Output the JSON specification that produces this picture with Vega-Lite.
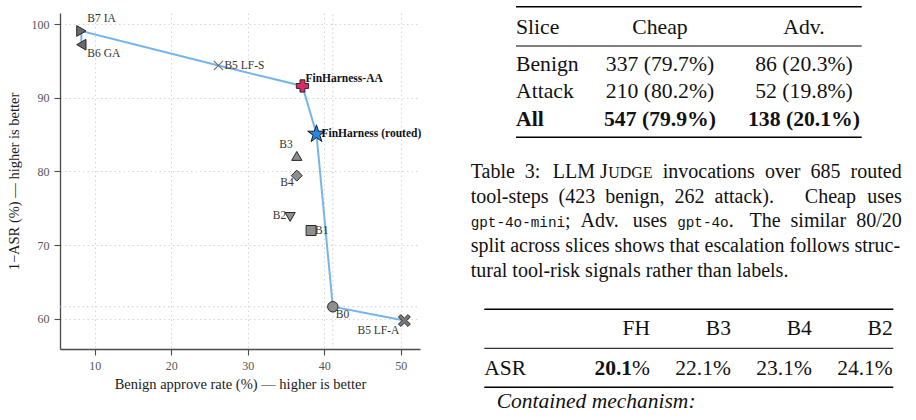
{
  "$schema": "https://vega.github.io/schema/vega-lite/v6.json",
  "width": 360,
  "height": 336,
  "autosize": {"type": "none"},
  "padding": {"left": 60, "top": 13, "right": 496, "bottom": 71},
  "background": "#ffffff",
  "config": {
    "view": {"stroke": null},
    "axis": {
      "domainColor": "#4a4a4a", "domainWidth": 1.3,
      "tickColor": "#4a4a4a", "tickWidth": 1.1, "tickSize": 6,
      "labelFont": "Liberation Serif", "labelFontSize": 12, "labelColor": "#555555", "labelPadding": 5,
      "titleFont": "Liberation Serif", "titleFontSize": 14.5, "titleFontWeight": "normal", "titleColor": "#1a1a1a",
      "grid": true, "gridColor": "#cccccc", "gridDash": [1.5, 3], "gridWidth": 0.8
    },
    "axisX": {"titlePadding": 6},
    "axisY": {"titlePadding": 10}
  },
  "layer": [
    {
      "data": {"values": [
        {"name": "B7 IA", "benign": 8.25, "robust": 99.06, "frontier": 2},
        {"name": "B6 GA", "benign": 8.25, "robust": 97.2, "frontier": 1},
        {"name": "B5 LF-S", "benign": 26.16, "robust": 94.37, "frontier": 3},
        {"name": "FinHarness-AA", "benign": 37.14, "robust": 91.6, "frontier": 4},
        {"name": "FinHarness (routed)", "benign": 38.97, "robust": 85.07, "frontier": 5},
        {"name": "B3", "benign": 36.4, "robust": 82.1, "frontier": null},
        {"name": "B4", "benign": 36.4, "robust": 79.43, "frontier": null},
        {"name": "B2", "benign": 35.53, "robust": 73.82, "frontier": null},
        {"name": "B1", "benign": 38.27, "robust": 71.98, "frontier": null},
        {"name": "B0", "benign": 41.11, "robust": 61.63, "frontier": 6},
        {"name": "B5 LF-A", "benign": 50.46, "robust": 59.76, "frontier": 7}
      ]},
      "encoding": {
        "x": {"field": "benign", "type": "quantitative", "title": "Benign approve rate (%) — higher is better",
              "scale": {"domain": [5.46, 52.5], "nice": false, "zero": false},
              "axis": {"orient": "bottom", "values": [10, 20, 30, 40, 50], "format": "d"}},
        "y": {"field": "robust", "type": "quantitative", "title": "1−ASR (%) — higher is better",
              "scale": {"domain": [55.9, 101.5], "nice": false, "zero": false},
              "axis": {"orient": "left", "values": [60, 70, 80, 90, 100], "format": "d"}}
      },
      "layer": [
        {"transform": [{"filter": "datum.name === 'B0'"}],
         "mark": {"type": "rule", "color": "#c6c6c6", "strokeWidth": 0.9, "strokeDash": [1.5, 3]},
         "encoding": {"x": {"datum": 5.46, "type": "quantitative", "title": "Benign approve rate (%) — higher is better"}, "x2": {"datum": 52.5}}},
        {"transform": [{"filter": "datum.name === 'B0'"}],
         "mark": {"type": "rule", "color": "#c6c6c6", "strokeWidth": 0.9, "strokeDash": [1.5, 3]},
         "encoding": {"y": {"datum": 55.9, "type": "quantitative", "title": "1−ASR (%) — higher is better"}, "y2": {"datum": 101.5}}},
        {"transform": [{"filter": "datum.frontier != null"}],
         "mark": {"type": "line", "color": "#78b4ea", "strokeWidth": 2},
         "encoding": {"order": {"field": "frontier", "type": "quantitative"}}},
        {"transform": [{"filter": "datum.name === 'B7 IA'"}],
         "mark": {"type": "point", "shape": "triangle-right", "size": 115, "filled": true, "fill": "#6b6b6b", "stroke": "#262626", "strokeWidth": 1, "opacity": 1}},
        {"transform": [{"filter": "datum.name === 'B6 GA'"}],
         "mark": {"type": "point", "shape": "triangle-left", "size": 115, "filled": true, "fill": "#6b6b6b", "stroke": "#262626", "strokeWidth": 1, "opacity": 1}},
        {"transform": [{"filter": "datum.name === 'B5 LF-S'"}],
         "mark": {"type": "point", "shape": "M-1,-1L1,1M1,-1L-1,1", "size": 85, "filled": false, "stroke": "#6e6e6e", "strokeWidth": 1.1, "opacity": 1}},
        {"transform": [{"filter": "datum.name === 'FinHarness-AA'"}],
         "mark": {"type": "point", "shape": "cross", "size": 150, "filled": true, "fill": "#d92b67", "stroke": "#262626", "strokeWidth": 1, "opacity": 1}},
        {"transform": [{"filter": "datum.name === 'FinHarness (routed)'"}],
         "mark": {"type": "point", "shape": "M0,-1L0.2245,-0.309L0.9511,-0.309L0.3633,0.118L0.5878,0.809L0,0.382L-0.5878,0.809L-0.3633,0.118L-0.9511,-0.309L-0.2245,-0.309Z", "size": 340, "filled": true, "fill": "#1f88e6", "stroke": "#1a1a1a", "strokeWidth": 1, "opacity": 1}},
        {"transform": [{"filter": "datum.name === 'B3'"}],
         "mark": {"type": "point", "shape": "triangle-up", "size": 105, "filled": true, "fill": "#8e8e8e", "stroke": "#262626", "strokeWidth": 1, "opacity": 1}},
        {"transform": [{"filter": "datum.name === 'B4'"}],
         "mark": {"type": "point", "shape": "diamond", "size": 120, "filled": true, "fill": "#8e8e8e", "stroke": "#262626", "strokeWidth": 1, "opacity": 1}},
        {"transform": [{"filter": "datum.name === 'B2'"}],
         "mark": {"type": "point", "shape": "triangle-down", "size": 105, "filled": true, "fill": "#8e8e8e", "stroke": "#262626", "strokeWidth": 1, "opacity": 1}},
        {"transform": [{"filter": "datum.name === 'B1'"}],
         "mark": {"type": "point", "shape": "square", "size": 100, "filled": true, "fill": "#8e8e8e", "stroke": "#262626", "strokeWidth": 1, "opacity": 1}},
        {"transform": [{"filter": "datum.name === 'B0'"}],
         "mark": {"type": "point", "shape": "circle", "size": 110, "filled": true, "fill": "#8e8e8e", "stroke": "#262626", "strokeWidth": 1, "opacity": 1}},
        {"transform": [{"filter": "datum.name === 'B5 LF-A'"}],
         "mark": {"type": "point", "shape": "M-0.6,-1L0,-0.4L0.6,-1L1,-0.6L0.4,0L1,0.6L0.6,1L0,0.4L-0.6,1L-1,0.6L-0.4,0L-1,-0.6Z", "size": 140, "filled": true, "fill": "#7a7a7a", "stroke": "#262626", "strokeWidth": 1, "opacity": 1}},
        {"transform": [{"filter": "datum.name === 'B7 IA'"}],
         "mark": {"type": "text", "align": "left", "dx": 6, "dy": -12, "font": "Liberation Serif", "fontSize": 11.5, "color": "#333333"},
         "encoding": {"text": {"field": "name"}}},
        {"transform": [{"filter": "datum.name === 'B6 GA'"}],
         "mark": {"type": "text", "align": "left", "dx": 6, "dy": 9, "font": "Liberation Serif", "fontSize": 11.5, "color": "#333333"},
         "encoding": {"text": {"field": "name"}}},
        {"transform": [{"filter": "datum.name === 'B5 LF-S'"}],
         "mark": {"type": "text", "align": "left", "dx": 6, "dy": 0, "font": "Liberation Serif", "fontSize": 11.5, "color": "#333333"},
         "encoding": {"text": {"field": "name"}}},
        {"transform": [{"filter": "datum.name === 'FinHarness-AA'"}],
         "mark": {"type": "text", "align": "left", "dx": 3, "dy": -7, "font": "Liberation Serif", "fontSize": 11.5, "fontWeight": "bold", "color": "#111111"},
         "encoding": {"text": {"field": "name"}}},
        {"transform": [{"filter": "datum.name === 'FinHarness (routed)'"}],
         "mark": {"type": "text", "align": "left", "dx": 5, "dy": 0, "font": "Liberation Serif", "fontSize": 11.5, "fontWeight": "bold", "color": "#111111"},
         "encoding": {"text": {"field": "name"}}},
        {"transform": [{"filter": "datum.name === 'B3'"}],
         "mark": {"type": "text", "align": "right", "dx": -4, "dy": -11, "font": "Liberation Serif", "fontSize": 11.5, "color": "#333333"},
         "encoding": {"text": {"field": "name"}}},
        {"transform": [{"filter": "datum.name === 'B4'"}],
         "mark": {"type": "text", "align": "right", "dx": -3, "dy": 7, "font": "Liberation Serif", "fontSize": 11.5, "color": "#333333"},
         "encoding": {"text": {"field": "name"}}},
        {"transform": [{"filter": "datum.name === 'B2'"}],
         "mark": {"type": "text", "align": "right", "dx": -4, "dy": -1, "font": "Liberation Serif", "fontSize": 11.5, "color": "#333333"},
         "encoding": {"text": {"field": "name"}}},
        {"transform": [{"filter": "datum.name === 'B1'"}],
         "mark": {"type": "text", "align": "left", "dx": 4, "dy": 0, "font": "Liberation Serif", "fontSize": 11.5, "color": "#333333"},
         "encoding": {"text": {"field": "name"}}},
        {"transform": [{"filter": "datum.name === 'B0'"}],
         "mark": {"type": "text", "align": "left", "dx": 3, "dy": 8, "font": "Liberation Serif", "fontSize": 11.5, "color": "#333333"},
         "encoding": {"text": {"field": "name"}}},
        {"transform": [{"filter": "datum.name === 'B5 LF-A'"}],
         "mark": {"type": "text", "align": "right", "dx": -5, "dy": 10.5, "font": "Liberation Serif", "fontSize": 11.5, "color": "#333333"},
         "encoding": {"text": {"field": "name"}}}
      ]
    },
    {
      "layer": [
        {
          "data": {"values": [
            {"row": "header", "col": "Slice", "txt": "Slice"},
            {"row": "header", "col": "Cheap", "txt": "Cheap"},
            {"row": "header", "col": "Adv.", "txt": "Adv."},
            {"row": "Benign", "col": "Slice", "txt": "Benign"},
            {"row": "Benign", "col": "Cheap", "txt": "337 (79.7%)"},
            {"row": "Benign", "col": "Adv.", "txt": "86 (20.3%)"},
            {"row": "Attack", "col": "Slice", "txt": "Attack"},
            {"row": "Attack", "col": "Cheap", "txt": "210 (80.2%)"},
            {"row": "Attack", "col": "Adv.", "txt": "52 (19.8%)"},
            {"row": "All", "col": "Slice", "txt": "All"},
            {"row": "All", "col": "Cheap", "txt": "547 (79.9%)"},
            {"row": "All", "col": "Adv.", "txt": "138 (20.1%)"}
          ]},
          "encoding": {
            "x": {"field": "col", "type": "nominal", "scale": {"type": "point", "domain": ["Slice", "Cheap", "Adv."], "range": [456, 744], "padding": 0}, "axis": null},
            "y": {"field": "row", "type": "nominal", "scale": {"type": "point", "domain": ["header", "Benign", "Attack", "All"], "range": [30.2, 112.7], "padding": 0}, "axis": null},
            "text": {"field": "txt"}
          },
          "layer": [
            {"transform": [{"filter": "datum.row === 'header' && datum.col === 'Slice'"}],
             "mark": {"type": "text", "align": "left", "baseline": "alphabetic", "dy": -9.7, "font": "Liberation Serif", "fontSize": 21.7, "color": "#111111"}},
            {"transform": [{"filter": "datum.row === 'header' && datum.col !== 'Slice'"}],
             "mark": {"type": "text", "align": "center", "baseline": "alphabetic", "dy": -9.7, "font": "Liberation Serif", "fontSize": 21.7, "color": "#111111"}},
            {"transform": [{"filter": "datum.row !== 'header' && datum.row !== 'All' && datum.col === 'Slice'"}],
             "mark": {"type": "text", "align": "left", "baseline": "alphabetic", "font": "Liberation Serif", "fontSize": 21.7, "color": "#111111"}},
            {"transform": [{"filter": "datum.row !== 'header' && datum.row !== 'All' && datum.col !== 'Slice'"}],
             "mark": {"type": "text", "align": "center", "baseline": "alphabetic", "font": "Liberation Serif", "fontSize": 21.7, "color": "#111111"}},
            {"transform": [{"filter": "datum.row === 'All' && datum.col === 'Slice'"}],
             "mark": {"type": "text", "align": "left", "baseline": "alphabetic", "font": "Liberation Serif", "fontSize": 21.7, "fontWeight": "bold", "color": "#111111"}},
            {"transform": [{"filter": "datum.row === 'All' && datum.col !== 'Slice'"}],
             "mark": {"type": "text", "align": "center", "baseline": "alphabetic", "font": "Liberation Serif", "fontSize": 21.7, "fontWeight": "bold", "color": "#111111"}},
            {"data": {"values": [{}]},
             "mark": {"type": "rule", "color": "#000000", "strokeWidth": 1.6, "yOffset": -36.5, "x2Offset": 57.7},
             "encoding": {"x": {"datum": "Slice", "type": "nominal"}, "x2": {"datum": "Adv."}, "y": {"datum": "header", "type": "nominal"}}},
            {"data": {"values": [{}]},
             "mark": {"type": "rule", "color": "#000000", "strokeWidth": 1.0, "yOffset": 2.8, "x2Offset": 57.7},
             "encoding": {"x": {"datum": "Slice", "type": "nominal"}, "x2": {"datum": "Adv."}, "y": {"datum": "header", "type": "nominal"}}},
            {"data": {"values": [{}]},
             "mark": {"type": "rule", "color": "#000000", "strokeWidth": 1.6, "yOffset": 11.6, "x2Offset": 57.7},
             "encoding": {"x": {"datum": "Slice", "type": "nominal"}, "x2": {"datum": "Adv."}, "y": {"datum": "All", "type": "nominal"}}}
          ]
        },
        {
          "data": {"values": [
            {"line": 1, "part": "a", "txt": "Table\u00a0 3:"},
            {"line": 1, "part": "llm", "txt": "LLM J"},
            {"line": 1, "part": "sc", "txt": "UDGE"},
            {"line": 1, "part": "inv", "txt": "invocations\u00a0 over\u00a0 685"},
            {"line": 1, "part": "end", "txt": "routed"},
            {"line": 2, "part": "a", "txt": "tool-steps\u00a0 (423\u00a0 benign,\u00a0 262\u00a0 attack)."},
            {"line": 2, "part": "cheap", "txt": "Cheap"},
            {"line": 2, "part": "end", "txt": "uses"},
            {"line": 3, "part": "mono1", "txt": "gpt-4o-mini"},
            {"line": 3, "part": "adv", "txt": "; \u00a0Adv."},
            {"line": 3, "part": "uses", "txt": "uses"},
            {"line": 3, "part": "mono2", "txt": "gpt-4o"},
            {"line": 3, "part": "dot", "txt": "."},
            {"line": 3, "part": "end", "txt": "The\u00a0 similar\u00a0 80/20"},
            {"line": 4, "part": "a", "txt": "split across slices shows that escalation follows struc-"},
            {"line": 5, "part": "a", "txt": "tural tool-risk signals rather than labels."}
          ]},
          "encoding": {
            "x": {"datum": 0, "type": "quantitative", "scale": {"domain": [0, 1], "range": [410.7, 841.7]}, "axis": null},
            "y": {"field": "line", "type": "ordinal", "scale": {"type": "point", "domain": [1, 2, 3, 4, 5], "range": [164.7, 263.9], "padding": 0}, "axis": null},
            "text": {"field": "txt"}
          },
          "layer": [
            {"transform": [{"filter": "datum.part === 'a'"}],
             "mark": {"type": "text", "align": "left", "baseline": "alphabetic", "font": "Liberation Serif", "fontSize": 20, "color": "#111111"}},
            {"transform": [{"filter": "datum.part === 'llm'"}],
             "mark": {"type": "text", "align": "left", "baseline": "alphabetic", "dx": 82, "font": "Liberation Serif", "fontSize": 20, "color": "#111111"}},
            {"transform": [{"filter": "datum.part === 'sc'"}],
             "mark": {"type": "text", "align": "left", "baseline": "alphabetic", "dx": 137.5, "font": "Liberation Serif", "fontSize": 16, "color": "#111111"}},
            {"transform": [{"filter": "datum.part === 'inv'"}],
             "mark": {"type": "text", "align": "left", "baseline": "alphabetic", "dx": 192, "font": "Liberation Serif", "fontSize": 20, "color": "#111111"}},
            {"transform": [{"filter": "datum.part === 'cheap'"}],
             "mark": {"type": "text", "align": "left", "baseline": "alphabetic", "dx": 334.1, "font": "Liberation Serif", "fontSize": 20, "color": "#111111"}},
            {"transform": [{"filter": "datum.part === 'adv'"}],
             "mark": {"type": "text", "align": "left", "baseline": "alphabetic", "dx": 94.3, "font": "Liberation Serif", "fontSize": 20, "color": "#111111"}},
            {"transform": [{"filter": "datum.part === 'uses'"}],
             "mark": {"type": "text", "align": "left", "baseline": "alphabetic", "dx": 162, "font": "Liberation Serif", "fontSize": 20, "color": "#111111"}},
            {"transform": [{"filter": "datum.part === 'dot'"}],
             "mark": {"type": "text", "align": "left", "baseline": "alphabetic", "dx": 258, "font": "Liberation Serif", "fontSize": 20, "color": "#111111"}},
            {"transform": [{"filter": "datum.part === 'mono1'"}],
             "mark": {"type": "text", "align": "left", "baseline": "alphabetic", "font": "Liberation Mono", "fontSize": 14.3, "color": "#111111"}},
            {"transform": [{"filter": "datum.part === 'mono2'"}],
             "mark": {"type": "text", "align": "left", "baseline": "alphabetic", "dx": 206.5, "font": "Liberation Mono", "fontSize": 14.3, "color": "#111111"}},
            {"transform": [{"filter": "datum.part === 'end'"}],
             "mark": {"type": "text", "align": "right", "baseline": "alphabetic", "font": "Liberation Serif", "fontSize": 20, "color": "#111111"},
             "encoding": {"x": {"datum": 1, "type": "quantitative"}}}
          ]
        },
        {
          "data": {"values": [
            {"row": "head", "col": "FH", "txt": "FH"},
            {"row": "head", "col": "B3", "txt": "B3"},
            {"row": "head", "col": "B4", "txt": "B4"},
            {"row": "head", "col": "B2", "txt": "B2"},
            {"row": "ASR", "col": "label", "txt": "ASR"},
            {"row": "ASR", "col": "FH", "txt": "20.1"},
            {"row": "ASR", "col": "B3", "txt": "22.1%"},
            {"row": "ASR", "col": "B4", "txt": "23.1%"},
            {"row": "ASR", "col": "B2", "txt": "24.1%"},
            {"row": "sub", "col": "label", "txt": "Contained mechanism:"}
          ]},
          "encoding": {
            "x": {"field": "col", "type": "nominal", "scale": {"type": "point", "domain": ["FH", "B3", "B4", "B2"], "range": [590, 832.7], "padding": 0}, "axis": null},
            "y": {"field": "row", "type": "nominal", "scale": {"type": "point", "domain": ["head", "ASR"], "range": [322, 362], "padding": 0}, "axis": null},
            "text": {"field": "txt"}
          },
          "layer": [
            {"transform": [{"filter": "datum.row === 'head'"}],
             "mark": {"type": "text", "align": "right", "baseline": "alphabetic", "font": "Liberation Serif", "fontSize": 21.5, "color": "#111111"}},
            {"transform": [{"filter": "datum.row === 'ASR' && datum.col !== 'FH' && datum.col !== 'label'"}],
             "mark": {"type": "text", "align": "right", "baseline": "alphabetic", "font": "Liberation Serif", "fontSize": 21.5, "color": "#111111"}},
            {"transform": [{"filter": "datum.row === 'ASR' && datum.col === 'FH'"}],
             "mark": {"type": "text", "align": "right", "baseline": "alphabetic", "dx": -17.9, "font": "Liberation Serif", "fontSize": 21.5, "fontWeight": "bold", "color": "#111111"}},
            {"transform": [{"filter": "datum.row === 'ASR' && datum.col === 'FH'"}],
             "mark": {"type": "text", "align": "right", "baseline": "alphabetic", "font": "Liberation Serif", "fontSize": 21.5, "color": "#111111"},
             "encoding": {"text": {"value": "%"}}},
            {"transform": [{"filter": "datum.row === 'ASR' && datum.col === 'label'"}],
             "mark": {"type": "text", "align": "left", "baseline": "alphabetic", "dx": -165.7, "font": "Liberation Serif", "fontSize": 21.5, "color": "#111111"},
             "encoding": {"x": {"datum": "FH", "type": "nominal"}}},
            {"transform": [{"filter": "datum.row === 'sub'"}],
             "mark": {"type": "text", "align": "left", "baseline": "alphabetic", "dx": -153.3, "dy": 33.3, "font": "Liberation Serif", "fontSize": 21.5, "fontStyle": "italic", "color": "#111111"},
             "encoding": {"x": {"datum": "FH", "type": "nominal"}, "y": {"datum": "ASR", "type": "nominal"}}},
            {"data": {"values": [{}]},
             "mark": {"type": "rule", "color": "#000000", "strokeWidth": 1.6, "yOffset": -25.7, "xOffset": -165.7, "x2Offset": 0.6},
             "encoding": {"x": {"datum": "FH", "type": "nominal"}, "x2": {"datum": "B2"}, "y": {"datum": "head", "type": "nominal"}}},
            {"data": {"values": [{}]},
             "mark": {"type": "rule", "color": "#000000", "strokeWidth": 1.0, "yOffset": 13.3, "xOffset": -165.7, "x2Offset": 0.6},
             "encoding": {"x": {"datum": "FH", "type": "nominal"}, "x2": {"datum": "B2"}, "y": {"datum": "head", "type": "nominal"}}},
            {"data": {"values": [{}]},
             "mark": {"type": "rule", "color": "#000000", "strokeWidth": 1.6, "yOffset": 12.3, "xOffset": -165.7, "x2Offset": 0.6},
             "encoding": {"x": {"datum": "FH", "type": "nominal"}, "x2": {"datum": "B2"}, "y": {"datum": "ASR", "type": "nominal"}}}
          ]
        }
      ],
      "resolve": {"scale": {"x": "independent", "y": "independent"}}
    }
  ],
  "resolve": {"scale": {"x": "independent", "y": "independent"}}
}
